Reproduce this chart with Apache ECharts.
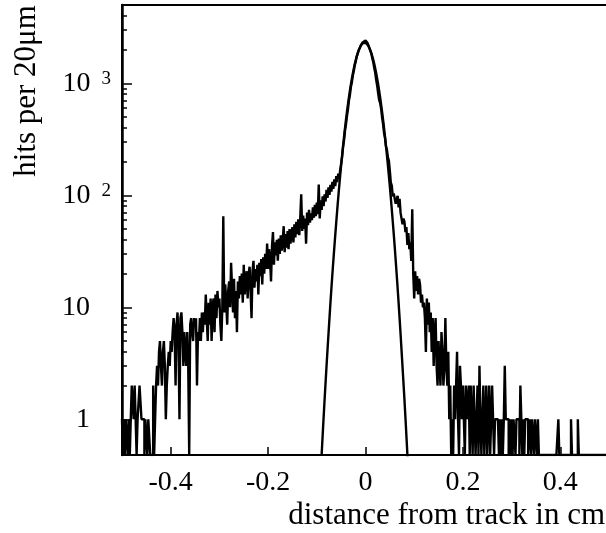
<!DOCTYPE html>
<html>
<head>
<meta charset="utf-8">
<script src="https://cdn.jsdelivr.net/npm/echarts@6.0.0/dist/echarts.min.js"></script>
<style>html,body{margin:0;padding:0;background:#fff;}</style>
</head>
<body>
<div id="main" style="width:606px;height:533px;"></div>
<script>
// histogram: hits per 20um bin, bins start at -0.5 cm
var binStart = -0.5;
var binWidth = 0.002;
var hits = [
    1,0,1,0,1,1,0,1,0,1, 2,2,1,2, 1,0,1,1, 2,2,1, 1,1,0,1,
    1,0,1,1, 0,0,0, 2,0,1,2, 3,2,4,5,3,2,4,5,3,1, 2,3,4,3,
    5,4,6, 8,6,2,7,9,5,1,8, 9,6,3,6,4, 3,6,3,0, 7,8,6,5,8,
    7,8,2,6,5, 8,5,9,6,9,7, 13,8,5,11,7, 12,5,10,12,6,13,8,14,10,
    12,7,5,10,65, 9,16,11,7,14,17, 10,25, 15,9,18,8,14,6, 17,12,19,13,20,11,
    24,13,18,21,12,20,23,14,8,21, 26,15,22,17,24,13,25,19,27,16, 28,20,30,22,37,
    22,33,27,17,35,47,24,38,29,40, 26,41,30,44,32,39,53,31,45,34, 48,33,50,37,46,
    52,38,55,42,58,45,61,44,63,102, 48,66,50,62,37,70,54,74,57,69, 60,78,63,82,65,
    86,68,125,62,90,74,98,80,102,88, 112,95,118,101,124,108,132,114,139,121, 148,131,156,142,168,
    192,221,272,311,380,431,512,584,701,786, 925,1018,1172,1288,1452,1569,1733,1838,1975,2058, 2171,2232,2315,2352,2410,
    2395,2352,2296,2187,2101,1948,1842,1668,1541,1371, 1242,1068,951,812,712,668,596,498,437,362, 326,274,256,218,204,
    165,130,122,98,104, 108,84,92,99,78,93,70, 72,55,62,58,47, 52,36,46,33,38,26, 75,20,
    12,21,14,19,13,18,16,11, 13,10,11,8,4,12,7,11,6, 9,4,8,3,6, 8,3,2,
    5,3,2,6,4, 2,3,8, 3,2,4,1,2, 0,1,0, 2,1,1,4, 1,0,3,2,1,
    2,1,0,2,2, 1,2,0,2,1,0,2,1,0,1, 2,0,3,1,0, 1,2,0,1,2,
    0,1,2,0,1, 2,1,0,1,1, 1,1,0,1,0, 1,0,1,3,1, 1,1,0,1,0,
    1,0,1,1,0, 1,1,1,0,2, 1,0,1,0,1, 1,1,0,0,1, 0,1,1,0,1,
    1,0,1,0, 0,0,0,0,0,0,0,0,0, 0,0,0,0,0,0,0, 0,0,0,1,0,
    0,0,0,0,0,0,0,0,0,0, 0,1,0,0,0,0,0,0,1,0, 0,0,0,0,0,
    0,0,0,0,0,0,0,0,0,0, 0,0,0,0,0,0,0,0,0,0, 0,0,0,0,0
];

// gaussian fit curve
var fitX = [-0.090,-0.085,-0.080,-0.075,-0.070,-0.065,-0.060,-0.055,-0.050,-0.045,-0.040,-0.035,-0.030,-0.025,-0.020,-0.015,-0.010,-0.005,
    0,0.005,0.010,0.015,0.020,0.025,0.030,0.035,0.040,0.045,0.050,0.055,0.060,0.065,0.070,0.075,0.080,0.085,0.090];
var fitY = [0.49,1.25,3.0,6.8,14.8,30,58,107,186,305,476,700,977,1291,1615,1913,2144,2278,
    2290,2180,1965,1678,1356,1038,752,516,335,206,120,66,34.6,17.1,8.0,3.5,1.49,0.59,0.22];

var xTicks = [-0.4, -0.2, 0, 0.2, 0.4];
var yMajor = [1, 10, 100, 1000];
var yMinor = [0.6,0.7,0.8,0.9, 2,3,4,5,6,7,8,9, 20,30,40,50,60,70,80,90, 200,300,400,500,600,700,800,900, 2000,3000,4000];
var yMin = 0.48, yMax = 5000;

var font = '"Liberation Serif", "Times New Roman", serif';

var histData = [];
for (var i = 0; i < hits.length; i++) {
    histData.push([binStart + i * binWidth, hits[i] > 0 ? hits[i] : yMin]);
}
histData.push([binStart + hits.length * binWidth, hits[hits.length - 1] > 0 ? hits[hits.length - 1] : yMin]);

var fitData = fitX.map(function (x, k) { return [x, fitY[k]]; });

var chart = echarts.init(document.getElementById('main'));
var option = {
    animation: false,
    backgroundColor: '#fff',
    grid: {
        left: 122, right: -3, top: 5, bottom: 78,
        show: true, borderColor: '#000', borderWidth: 2,
        outerBoundsMode: 'none'
    },
    xAxis: {
        type: 'value', min: -0.5, max: 0.5,
        splitLine: { show: false },
        axisLine: { onZero: false, lineStyle: { color: '#000', width: 2 } },
        axisTick: { inside: true, length: 8, customValues: xTicks, lineStyle: { color: '#000', width: 1.5 } },
        axisLabel: {
            customValues: xTicks, margin: 14, color: '#000', fontFamily: font, fontSize: 28,
            formatter: function (v) { return v === 0 ? '0' : v.toFixed(1); }
        }
    },
    yAxis: [{
        type: 'log', min: yMin, max: yMax, logBase: 10,
        splitLine: { show: false },
        axisLine: { onZero: false, lineStyle: { color: '#000', width: 2.5 } },
        axisTick: { inside: true, length: 10, customValues: yMajor, lineStyle: { color: '#000', width: 1.5 } },
        axisLabel: {
            customValues: yMajor, margin: 11, color: '#000',
            formatter: function (v) {
                var p = Math.round(Math.log10(v));
                if (p === 0) return '{n|1}';
                if (p === 1) return '{n|10}';
                return '{m|10}{s|' + p + '}';
            },
            rich: {
                n: { fontFamily: font, fontSize: 28, color: '#000', padding: [0, 21, 0, 0] },
                m: { fontFamily: font, fontSize: 28, color: '#000' },
                s: { fontFamily: font, fontSize: 19, color: '#000', verticalAlign: 'top', padding: [0, 0, 0, 11] }
            }
        }
    }, {
        type: 'log', min: yMin, max: yMax, logBase: 10, position: 'left',
        splitLine: { show: false },
        axisLine: { show: false, onZero: false },
        axisLabel: { show: false },
        axisTick: { inside: true, length: 5, customValues: yMinor, lineStyle: { color: '#000', width: 1.5 } }
    }],
    graphic: [{
        type: 'text', x: 27, y: 91, rotation: Math.PI / 2,
        style: { text: 'hits per 20\u03bcm', fill: '#000', font: '31px ' + font, align: 'center', verticalAlign: 'middle' }
    }, {
        type: 'text', x: 605, y: 516,
        style: { text: 'distance from track in cm', fill: '#000', font: '31px ' + font, align: 'right', verticalAlign: 'middle' }
    }],
    series: [{
        type: 'line', name: 'data', data: histData, step: 'end',
        symbol: 'none', yAxisIndex: 0,
        lineStyle: { color: '#000', width: 2.4 }
    }, {
        type: 'line', name: 'fit', data: fitData, smooth: 0.3,
        symbol: 'none', yAxisIndex: 0,
        lineStyle: { color: '#000', width: 2.4 }
    }]
};
chart.setOption(option);
</script>
</body>
</html>
